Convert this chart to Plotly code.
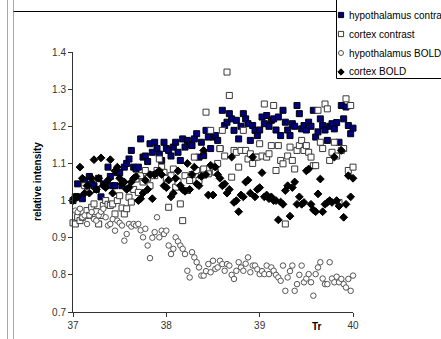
import plotly.graph_objects as go

# ---------------- data ----------------
x_start = 37.0
x_step = 0.025

hypothalamus_contrast = [
    1.00, 1.01, 1.045, 1.01, 1.005, 1.055, 1.04, 1.065, 1.045, 1.04,
    1.03, 1.06, 1.01, 1.045, 1.04, 1.09, 1.065, 1.04, 1.04, 1.075,
    1.075, 1.04, 1.09, 1.10, 1.112, 1.135, 1.09, 1.085, 1.09, 1.166,
    1.117, 1.12, 1.105, 1.153, 1.13, 1.157, 1.14, 1.125, 1.108, 1.157,
    1.14, 1.135, 1.12, 1.144, 1.157, 1.13, 1.108, 1.166, 1.144, 1.162,
    1.15, 1.148, 1.166, 1.18, 1.117, 1.157, 1.121, 1.189, 1.171, 1.14,
    1.171, 1.175, 1.162, 1.14, 1.243, 1.202, 1.211, 1.234, 1.22, 1.189,
    1.216, 1.166, 1.20, 1.234, 1.22, 1.207, 1.162, 1.202, 1.189, 1.175,
    1.19, 1.225, 1.207, 1.229, 1.20, 1.216, 1.22, 1.19, 1.225, 1.175,
    1.243, 1.211, 1.19, 1.175, 1.207, 1.20, 1.256, 1.234, 1.193, 1.202,
    1.19, 1.211, 1.20, 1.243, 1.171, 1.185, 1.22, 1.202, 1.19, 1.162,
    1.20, 1.207, 1.193, 1.21, 1.157, 1.256, 1.22, 1.252, 1.202, 1.18,
    1.195,
]

cortex_contrast = [
    0.94, 0.937, 0.955, 0.946, 0.955, 1.04, 0.973, 0.96, 0.982, 0.991,
    0.97, 0.937, 0.96, 0.987, 1.0, 0.99, 0.987, 0.991, 0.964, 1.0,
    1.013, 0.98, 0.964, 0.978, 1.009, 0.996, 1.03, 1.058, 1.022, 1.067,
    1.05, 1.081, 1.06, 1.04, 1.07, 1.067, 1.081, 1.112, 1.09, 1.076,
    1.06, 0.982, 1.067, 1.085, 1.036, 1.05, 0.991, 0.946, 1.067, 1.027,
    1.054, 1.07, 1.117, 1.081, 1.054, 1.067, 1.085, 1.238, 1.072, 1.189,
    1.09, 1.076, 1.10, 1.14, 1.189, 1.12, 1.346, 1.283, 1.063, 1.135,
    1.13, 1.09, 1.135, 1.189, 1.135, 1.112, 1.126, 1.10, 1.117, 1.117,
    1.153, 1.12, 1.26, 1.117, 1.126, 1.148, 1.256, 1.081, 1.148, 1.108,
    1.099, 0.937, 1.12, 1.144, 1.108, 1.085, 1.135, 1.148, 1.162, 1.135,
    1.148, 1.13, 1.117, 1.094, 1.094, 1.243, 1.157, 1.14, 1.26, 1.247,
    1.108, 1.13, 1.157, 1.12, 0.995, 1.135, 1.14, 1.274, 1.081, 1.256,
    1.09,
]

hypothalamus_bold = [
    1.0, 0.973, 0.969, 0.978, 0.955, 0.96, 0.937, 0.96, 0.969, 0.95,
    0.946, 0.96, 0.97, 0.978, 0.955, 0.933, 0.937, 0.95, 0.919, 0.946,
    0.94, 0.933, 0.892, 0.91, 0.937, 0.93, 0.937, 0.933, 0.937, 0.92,
    0.901, 0.924, 0.879, 0.845, 0.90, 0.915, 0.955, 0.901, 0.919, 0.91,
    0.919, 0.879, 0.856, 0.87, 0.901, 0.89, 0.879, 0.87, 0.856, 0.811,
    0.793, 0.861, 0.847, 0.834, 0.82, 0.798, 0.798, 0.81, 0.829, 0.807,
    0.838, 0.816, 0.82, 0.838, 0.829, 0.811, 0.829, 0.825, 0.80, 0.789,
    0.811, 0.834, 0.82, 0.811, 0.83, 0.847, 0.807, 0.825, 0.825, 0.815,
    0.802, 0.81, 0.802, 0.825, 0.802, 0.82, 0.811, 0.80, 0.793, 0.784,
    0.825, 0.757, 0.793, 0.81, 0.825, 0.757, 0.775, 0.80, 0.825, 0.78,
    0.79, 0.802, 0.78, 0.744, 0.802, 0.82, 0.834, 0.79, 0.775, 0.775,
    0.834, 0.79, 0.78, 0.795, 0.78, 0.789, 0.775, 0.766, 0.789, 0.757,
    0.798,
]

cortex_bold = [
    1.00, 1.01, 1.01, 1.09, 1.06, 1.02, 1.04, 1.02, 1.06, 1.11,
    1.03, 1.06, 1.115, 1.04, 1.035, 1.055, 1.11, 1.02, 1.08, 1.09,
    1.06, 1.045, 1.05, 1.03, 1.035, 1.05, 1.06, 1.065, 1.00, 1.005,
    1.02, 1.055, 1.03, 1.07, 1.005, 1.07, 1.075, 1.08, 1.07, 1.04,
    1.035, 1.055, 1.01, 1.02, 1.06, 1.08, 1.04, 1.03, 1.025, 1.10,
    1.03, 1.07, 1.09, 1.045, 1.04, 1.065, 1.135, 1.07, 1.015, 1.095,
    1.015, 1.09, 1.07, 1.06, 1.04, 1.045, 1.02, 1.03, 1.117, 0.995,
    1.0, 0.97, 1.015, 1.01, 1.05, 1.055, 1.02, 1.117, 1.01, 1.03,
    1.035, 1.075, 1.01, 1.015, 1.005, 1.01, 1.0, 1.0, 0.948, 0.996,
    0.99, 1.027, 1.04, 0.958, 1.035, 1.05, 0.99, 1.01, 0.99, 0.995,
    1.08, 1.085, 0.99, 0.975, 0.97, 1.018, 1.058, 0.97, 0.99, 0.995,
    1.0, 0.995, 1.117, 1.0, 0.985, 1.135, 0.955, 0.99, 1.067, 1.01,
    1.06,
]

series_names = ["hypothalamus contrast", "cortex contrast",
                "hypothalamus BOLD", "cortex BOLD"]
x_ticks = [37, 38, 39, 40]
y_ticks = [0.7, 0.8, 0.9, 1.0, 1.1, 1.2, 1.3, 1.4]
y_ticktext = ["0.7", "0.8", "0.9", "1", "1.1", "1.2", "1.3", "1.4"]

tr = [round(x_start + x_step * i, 4) for i in range(len(cortex_bold))]

# ---------------- layout geometry ----------------
W, H = 441, 339
L, R, T, B = 73, 88, 52, 27
PW, PH = W - L - R, H - T - B


def px(x):
    return (x - L) / PW


def py(y):
    return (H - B - y) / PH


FONT = "Liberation Sans, Arial, sans-serif"

fig = go.Figure()

styles = [
    dict(symbol="square", size=6, color="#000080", line=dict(color="#000000", width=1)),
    dict(symbol="square", size=6, color="#ffffff", line=dict(color="#3a3a3a", width=1)),
    dict(symbol="circle", size=5.5, color="#ffffff", line=dict(color="#555555", width=1)),
    dict(symbol="diamond", size=6, color="#000000", line=dict(color="#000000", width=1)),
]
data = [hypothalamus_contrast, cortex_contrast, hypothalamus_bold, cortex_bold]

for name, ys, st in zip(series_names, data, styles):
    fig.add_trace(go.Scatter(
        x=tr, y=ys, mode="markers", name=name, marker=st,
        showlegend=False, cliponaxis=False, hoverinfo="skip",
    ))

shapes = []
line_gray = dict(color="#a8a8a8", width=1)
# window/chart borders
shapes.append(dict(type="line", xref="paper", yref="paper",
                   x0=px(7.5), x1=px(7.5), y0=py(-2), y1=py(H + 2), line=line_gray))
shapes.append(dict(type="line", xref="paper", yref="paper",
                   x0=px(13.5), x1=px(13.5), y0=py(-2), y1=py(H + 2), line=line_gray))
shapes.append(dict(type="line", xref="paper", yref="paper",
                   x0=px(13.5), x1=px(336.5), y0=py(11.5), y1=py(11.5),
                   line=dict(color="#000000", width=1)))
# legend box
shapes.append(dict(type="rect", xref="paper", yref="paper",
                   x0=px(336.5), x1=px(W + 5), y0=py(78.5), y1=py(-5),
                   line=dict(color="#000000", width=1), fillcolor="#ffffff", layer="below"))

leg_y = [15, 34, 53, 72]
mx = 341
s = 2.6
# legend swatches
shapes.append(dict(type="rect", xref="paper", yref="paper",
                   x0=px(mx - s), x1=px(mx + s), y0=py(leg_y[0] + s), y1=py(leg_y[0] - s),
                   fillcolor="#000080", line=dict(color="#000000", width=1)))
shapes.append(dict(type="rect", xref="paper", yref="paper",
                   x0=px(mx - s), x1=px(mx + s), y0=py(leg_y[1] + s), y1=py(leg_y[1] - s),
                   fillcolor="#ffffff", line=dict(color="#3a3a3a", width=1)))


def diamond_path(cx, cy, r):
    return (f"M {px(cx)} {py(cy - r)} L {px(cx + r)} {py(cy)} "
            f"L {px(cx)} {py(cy + r)} L {px(cx - r)} {py(cy)} Z")


shapes.append(dict(type="circle", xref="paper", yref="paper",
                   x0=px(mx - 2.5), x1=px(mx + 2.5), y0=py(leg_y[2] + 2.5), y1=py(leg_y[2] - 2.5),
                   fillcolor="#ffffff", line=dict(color="#555555", width=1)))
shapes.append(dict(type="path", xref="paper", yref="paper",
                   path=diamond_path(mx, leg_y[3], 3.2), fillcolor="#000000",
                   line=dict(color="#000000", width=1)))

annotations = []
for name, yy in zip(series_names, leg_y):
    annotations.append(dict(
        text=name, xref="paper", yref="paper", x=px(347), y=py(yy),
        xanchor="left", yanchor="middle", showarrow=False,
        font=dict(family=FONT, size=10, color="#000000"),
    ))
annotations.append(dict(
    text="<b>relative intensity</b>", xref="paper", yref="paper",
    x=px(37), y=py(182), xanchor="center", yanchor="middle", textangle=-90,
    showarrow=False, font=dict(family=FONT, size=10, color="#000000"),
))
annotations.append(dict(
    text="<b>Tr</b>", xref="paper", yref="paper",
    x=px(317), y=py(326), xanchor="center", yanchor="middle",
    showarrow=False, font=dict(family=FONT, size=10, color="#000000"),
))

fig.update_layout(
    width=W, height=H,
    margin=dict(l=L, r=R, t=T, b=B, pad=0, autoexpand=False),
    paper_bgcolor="#ffffff", plot_bgcolor="#ffffff",
    shapes=shapes, annotations=annotations,
    showlegend=False, hovermode=False,
    xaxis=dict(range=[37, 40], tickvals=x_ticks, ticktext=[str(v) for v in x_ticks],
               showgrid=False, zeroline=False, showline=True, linecolor="#333333",
               linewidth=1, ticks="outside", ticklen=4, tickcolor="#333333",
               tickfont=dict(family=FONT, size=10, color="#333333")),
    yaxis=dict(range=[0.7, 1.4], tickvals=y_ticks, ticktext=y_ticktext,
               showgrid=False, zeroline=False, showline=True, linecolor="#333333",
               linewidth=1, ticks="outside", ticklen=4, tickcolor="#333333",
               tickfont=dict(family=FONT, size=10, color="#333333")),
)

fig.write_html(
    "out.html",
    config={"displayModeBar": False, "staticPlot": True},
    post_script="document.body.style.margin='0';document.body.style.overflow='hidden';",
)
